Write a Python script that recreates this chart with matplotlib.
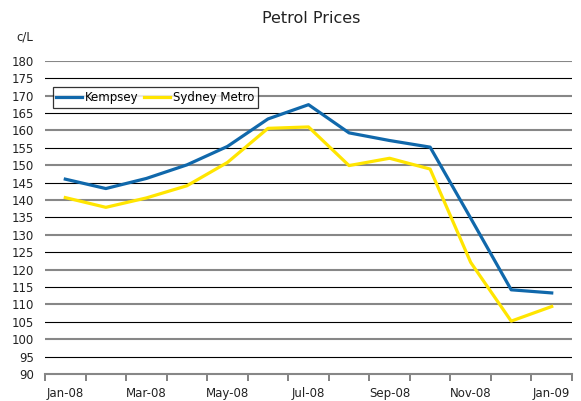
import numpy as np
import matplotlib.pyplot as plt

plt.rcParams['font.family'] = ['DejaVu Sans']

# --- data ---
months = ["Jan-08", "Feb-08", "Mar-08", "Apr-08", "May-08", "Jun-08", "Jul-08",
          "Aug-08", "Sep-08", "Oct-08", "Nov-08", "Dec-08", "Jan-09"]
kempsey = [146.0, 143.3, 146.2, 150.1, 155.4, 163.3, 167.4,
           159.3, 157.1, 155.2, 134.8, 114.2, 113.3]
sydney = [140.7, 137.9, 140.6, 144.1, 150.8, 160.6, 161.0,
          149.9, 152.0, 148.9, 122.1, 105.2, 109.4]
yticks = list(range(90, 181, 5))

BLUE = "#1068ab"
YELLOW = "#ffe500"

fig = plt.figure(figsize=(5.81, 4.01), dpi=100)
ax = fig.add_axes([0.0775, 0.0673, 0.907, 0.781])

x = np.arange(len(months))

# gridlines: grey on tens, black on fives
for v in yticks:
    if v == 90:
        continue
    if v % 10 == 0:
        ax.axhline(v, color="#878787", lw=1.5, zorder=1)
    else:
        ax.axhline(v, color="black", lw=0.8, zorder=1)

ax.plot(x, kempsey, color=BLUE, lw=2.3, label="Kempsey", zorder=3)
ax.plot(x, sydney, color=YELLOW, lw=2.3, label="Sydney Metro", zorder=3)

ax.set_xlim(-0.5, len(months) - 0.5)
ax.set_ylim(90, 180)
ax.set_yticks(yticks)
ax.tick_params(axis="y", length=0, pad=8, labelsize=8.5, colors="#222222")

# category labels every second month, ticks between categories
ax.set_xticks(x[::2])
ax.set_xticklabels(months[::2])
ax.set_xticks(np.arange(-0.5, len(months)), minor=True)
ax.tick_params(axis="x", which="major", length=0, pad=9, labelsize=8.5, colors="#222222")
ax.tick_params(axis="x", which="minor", length=5, width=1.1, color="#606060", direction="out")

for s in ["top", "right", "left"]:
    ax.spines[s].set_visible(False)
ax.spines["bottom"].set_color("#878787")
ax.spines["bottom"].set_linewidth(1.5)

leg = ax.legend(loc="upper left", bbox_to_anchor=(0.015, 0.915), ncol=2,
                frameon=True, fancybox=False, fontsize=8.5, handlelength=2.2,
                handletextpad=0.2, columnspacing=0.5, borderpad=0.3,
                borderaxespad=0)
leg.get_frame().set_edgecolor("black")
leg.get_frame().set_linewidth(0.9)
leg.set_zorder(5)

fig.text(0.535, 0.953, "Petrol Prices", ha="center", va="center", fontsize=11.5, color="#222222")
fig.text(0.042, 0.907, "c/L", ha="center", va="center", fontsize=8.5, color="#222222")

fig.savefig("out.png", dpi=100)
